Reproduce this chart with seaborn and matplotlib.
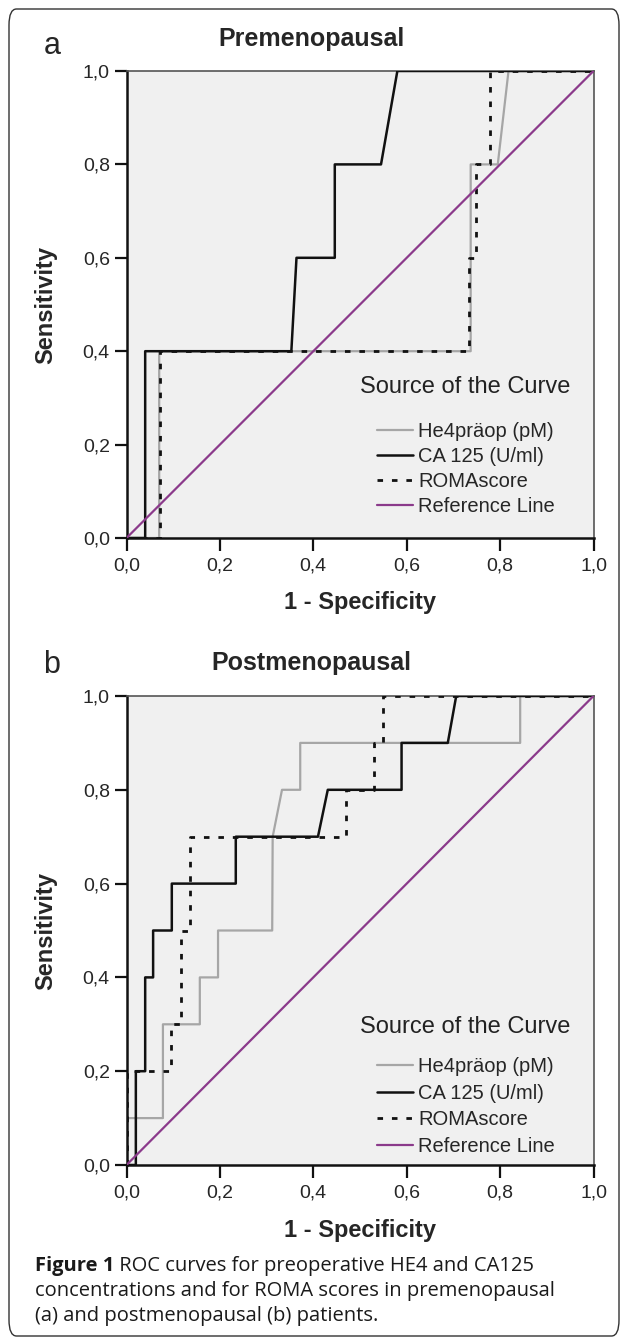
import numpy as np
import pandas as pd
import matplotlib
matplotlib.use("Agg")
import matplotlib.pyplot as plt
import seaborn as sns
from matplotlib.patches import FancyBboxPatch

# ---------------- data ----------------
series_names = ["He4präop (pM)", "CA 125 (U/ml)", "ROMAscore", "Reference Line"]
tick_values = [0.0, 0.2, 0.4, 0.6, 0.8, 1.0]
tick_labels = ["0,0", "0,2", "0,4", "0,6", "0,8", "1,0"]

# Premenopausal
pre_he4_x = [0.0, 0.07, 0.07, 0.737, 0.737, 0.795, 0.818, 1.0]
pre_he4_y = [0.0, 0.0, 0.4, 0.4, 0.8, 0.8, 1.0, 1.0]
pre_ca_x = [0.0, 0.04, 0.04, 0.353, 0.364, 0.446, 0.446, 0.545, 0.58, 1.0]
pre_ca_y = [0.0, 0.0, 0.4, 0.4, 0.6, 0.6, 0.8, 0.8, 1.0, 1.0]
pre_roma_x = [0.0, 0.072, 0.072, 0.733, 0.733, 0.748, 0.748, 0.779, 0.779, 1.0]
pre_roma_y = [0.0, 0.0, 0.4, 0.4, 0.6, 0.6, 0.8, 0.8, 1.0, 1.0]

# Postmenopausal
post_he4_x = [0.0, 0.0, 0.078, 0.078, 0.157, 0.157, 0.196, 0.196, 0.312, 0.313, 0.333, 0.372, 0.372, 0.843, 0.843, 1.0]
post_he4_y = [0.0, 0.1, 0.1, 0.3, 0.3, 0.4, 0.4, 0.5, 0.5, 0.7, 0.8, 0.8, 0.9, 0.9, 1.0, 1.0]
post_ca_x = [0.0, 0.02, 0.02, 0.04, 0.04, 0.057, 0.057, 0.097, 0.097, 0.234, 0.234, 0.41, 0.431, 0.589, 0.589, 0.688, 0.706, 1.0]
post_ca_y = [0.0, 0.0, 0.2, 0.2, 0.4, 0.4, 0.5, 0.5, 0.6, 0.6, 0.7, 0.7, 0.8, 0.8, 0.9, 0.9, 1.0, 1.0]
post_roma_x = [0.0, 0.0, 0.095, 0.095, 0.116, 0.116, 0.136, 0.136, 0.47, 0.47, 0.529, 0.529, 0.549, 0.549, 1.0]
post_roma_y = [0.0, 0.2, 0.2, 0.3, 0.3, 0.5, 0.5, 0.7, 0.7, 0.8, 0.8, 0.9, 0.9, 1.0, 1.0]

ref_x = [0.0, 1.0]
ref_y = [0.0, 1.0]

panel_titles = ["Premenopausal", "Postmenopausal"]
panel_letters = ["a", "b"]
x_label = "1 - Specificity"
y_label = "Sensitivity"
legend_title = "Source of the Curve"
caption_bold = "Figure 1"
caption_lines = [" ROC curves for preoperative HE4 and CA125",
                 "concentrations and for ROMA scores in premenopausal",
                 "(a) and postmenopausal (b) patients."]

# ---------------- style ----------------
sns.set_style("ticks")
plt.rcParams["font.family"] = ["Liberation Sans", "DejaVu Sans"]

W, H = 627, 1341
fig = plt.figure(figsize=(W / 100, H / 100), dpi=100)

def fx(px):
    return px / W

def fy(py):
    return 1 - py / H

# outer rounded frame
frame = FancyBboxPatch((fx(9), fy(1336)), fx(610), (1336 - 9) / H,
                       boxstyle="round,pad=0,rounding_size=0.012",
                       transform=fig.transFigure, fill=False,
                       edgecolor="#333333", linewidth=1.0)
fig.patches.append(frame)

colors = {"He4präop (pM)": "#a6a6a6", "CA 125 (U/ml)": "#111111",
          "ROMAscore": "#111111", "Reference Line": "#8b3a8b"}
styles = {"He4präop (pM)": "-", "CA 125 (U/ml)": "-",
          "ROMAscore": (0, (2.0, 3.2)), "Reference Line": "-"}
widths = {"He4präop (pM)": 1.6, "CA 125 (U/ml)": 1.8,
          "ROMAscore": 2.0, "Reference Line": 1.6}

panels = [
    dict(top=71, bottom=538, data=[(pre_he4_x, pre_he4_y), (pre_ca_x, pre_ca_y),
                                   (pre_roma_x, pre_roma_y), (ref_x, ref_y)],
         title_y=39, letter_y=46, xlabel_y=603, title_leg_y=387, leg_top=422, leg_sp=0.30),
    dict(top=696, bottom=1165, data=[(post_he4_x, post_he4_y), (post_ca_x, post_ca_y),
                                     (post_roma_x, post_roma_y), (ref_x, ref_y)],
         title_y=663, letter_y=665, xlabel_y=1231, title_leg_y=1027, leg_top=1057, leg_sp=0.38),
]

x_left, x_right = 126.5, 593.5

for i, p in enumerate(panels):
    ax = fig.add_axes([fx(x_left), fy(p["bottom"]), fx(x_right - x_left),
                       (p["bottom"] - p["top"]) / H])
    ax.set_facecolor("#f0f0f0")
    for name, (xs, ys) in zip(series_names, p["data"]):
        df = pd.DataFrame({"x": xs, "y": ys})
        sns.lineplot(data=df, x="x", y="y", sort=False, estimator=None, ax=ax,
                     color=colors[name], linestyle=styles[name],
                     linewidth=widths[name], label=name,
                     zorder=3 if name != "He4präop (pM)" else 2.5)
    ax.set_xlim(0, 1)
    ax.set_ylim(0, 1)
    ax.set_xticks(tick_values)
    ax.set_xticklabels(tick_labels, fontsize=14)
    ax.set_yticks(tick_values)
    ax.set_yticklabels(tick_labels, fontsize=14)
    ax.tick_params(axis="x", direction="out", length=9.4, width=1.6,
                   color="#111111", pad=4.3)
    ax.tick_params(axis="y", direction="out", length=9.0, width=1.6,
                   color="#111111", pad=3)
    for s in ["left", "bottom"]:
        ax.spines[s].set_linewidth(1.8)
        ax.spines[s].set_color("#111111")
    for s in ["top", "right"]:
        ax.spines[s].set_visible(True)
        ax.spines[s].set_linewidth(1.2)
        ax.spines[s].set_color("#555555")
    ax.set_xlabel("")
    ax.set_ylabel("")
    # axis labels
    fig.text(fx((x_left + x_right) / 2), fy(p["xlabel_y"]), x_label, fontsize=17,
             fontweight="bold", ha="center", va="center")
    fig.text(fx(46), fy((p["top"] + p["bottom"]) / 2), y_label, fontsize=17,
             fontweight="bold", ha="center", va="center", rotation=90)
    fig.text(fx(311), fy(p["title_y"]), panel_titles[i], fontsize=18,
             fontweight="bold", ha="center", va="center")
    fig.text(fx(52), fy(p["letter_y"]), panel_letters[i], fontsize=22,
             ha="center", va="center")
    # legend
    handles, labels = ax.get_legend_handles_labels()
    ax.legend(handles, labels, loc="upper left",
              bbox_to_anchor=(fx(377), fy(p["leg_top"])), bbox_transform=fig.transFigure,
              frameon=False, fontsize=14.5, handlelength=1.8, handletextpad=0.25,
              labelspacing=p["leg_sp"], borderaxespad=0, borderpad=0)
    fig.text(fx(360), fy(p["title_leg_y"]), legend_title, fontsize=17,
             ha="left", va="center", color="#222222")

# caption
cap_font = ["Open Sans", "DejaVu Sans"]
cap_size = 14.5
t = fig.text(fx(35), fy(1266), caption_bold, fontsize=cap_size, fontweight="bold",
             family=cap_font, ha="left", va="center", color="#1a1a1a")
fig.canvas.draw()
bb = t.get_window_extent()
fig.text(bb.x1 / W, fy(1266), caption_lines[0], fontsize=cap_size, family=cap_font,
         ha="left", va="center", color="#1a1a1a")
fig.text(fx(35), fy(1291), caption_lines[1], fontsize=cap_size, family=cap_font,
         ha="left", va="center", color="#1a1a1a")
fig.text(fx(35), fy(1316), caption_lines[2], fontsize=cap_size, family=cap_font,
         ha="left", va="center", color="#1a1a1a")

fig.savefig("out.png", dpi=100)
